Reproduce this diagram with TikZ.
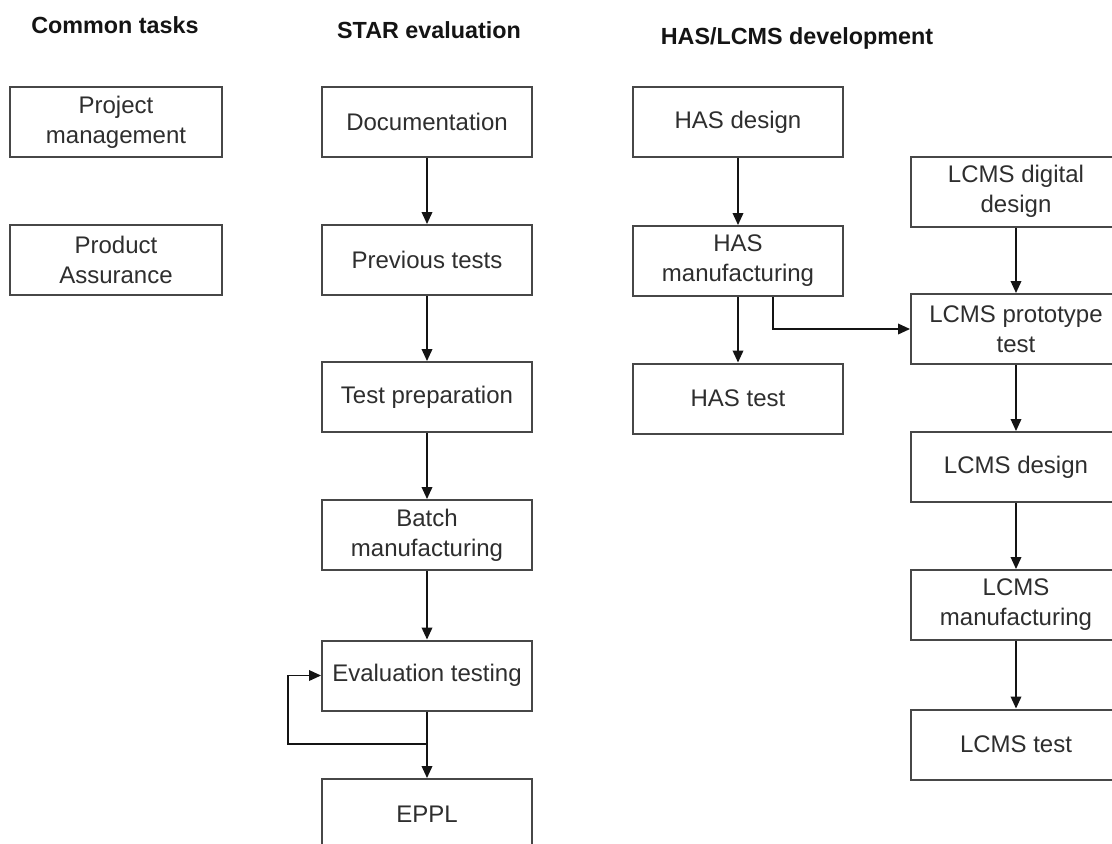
\documentclass[tikz,border=0pt]{standalone}
\usepackage{fontspec}
\setmainfont{Liberation Sans}
\usetikzlibrary{arrows.meta}
\begin{document}
\begin{tikzpicture}[x=0.75pt,y=-0.75pt,
  box/.style={draw=black!72, line width=1.5pt, fill=white, minimum width=157.5pt, minimum height=52.5pt, align=center, font=\fontsize{18}{22.5}\selectfont, text=black!82, inner sep=0pt},
  hdr/.style={font=\fontsize{17.5}{21}\selectfont\bfseries, text=black!92},
  arr/.style={line width=1.1pt, draw=black!92, -{Triangle[length=9pt,width=8pt]}}]
\path[use as bounding box] (0,0) rectangle (1112,843);
\fill[white] (0,0) rectangle (1112,843);
\clip (0,0) rectangle (1112,843);
% headers
\node[hdr] (h1) at (115,25) {Common tasks};
\node[hdr] (h2) at (429,30) {STAR evaluation};
\node[hdr] (h3) at (797,38) {HAS/LCMS development};
% common tasks
\node[box, minimum width=159pt] (pm) at (116,122) {Project\\management};
\node[box, minimum width=159pt] (pa) at (116,260) {Product\\Assurance};
% STAR evaluation
\node[box] (doc) at (427,122) {Documentation};
\node[box] (prev) at (427,260) {Previous tests};
\node[box] (prep) at (427,397) {Test preparation};
\node[box] (batch) at (427,535) {Batch\\manufacturing};
\node[box] (eval) at (427,675.5) {Evaluation testing};
\node[box] (eppl) at (427,814) {EPPL};
% HAS
\node[box] (hasd) at (738,122) {HAS design};
\node[box] (hasm) at (738,261) {HAS\\manufacturing};
\node[box] (hast) at (738,398.5) {HAS test};
% LCMS
\node[box] (lcdd) at (1016,191.5) {LCMS digital\\design};
\node[box] (lcpt) at (1016,329) {LCMS prototype\\test};
\node[box] (lcd) at (1016,467) {LCMS design};
\node[box] (lcm) at (1016,605) {LCMS\\manufacturing};
\node[box] (lct) at (1016,744.5) {LCMS test};
% arrows
\draw[arr] (doc) -- (prev);
\draw[arr] (prev) -- (prep);
\draw[arr] (prep) -- (batch);
\draw[arr] (batch) -- (eval);
\draw[arr] (eval) -- (eppl);
\coordinate (lp) at (427,744);
\coordinate (lq) at (288,744);
\draw[arr] (lp) -- (lq) |- (eval.west);
\draw[arr] (hasd) -- (hasm);
\draw[arr] (hasm) -- (hast);
\draw[arr] ([xshift=26.25pt]hasm.south) |- (lcpt.west);
\draw[arr] (lcdd) -- (lcpt);
\draw[arr] (lcpt) -- (lcd);
\draw[arr] (lcd) -- (lcm);
\draw[arr] (lcm) -- (lct);
\end{tikzpicture}
\end{document}
